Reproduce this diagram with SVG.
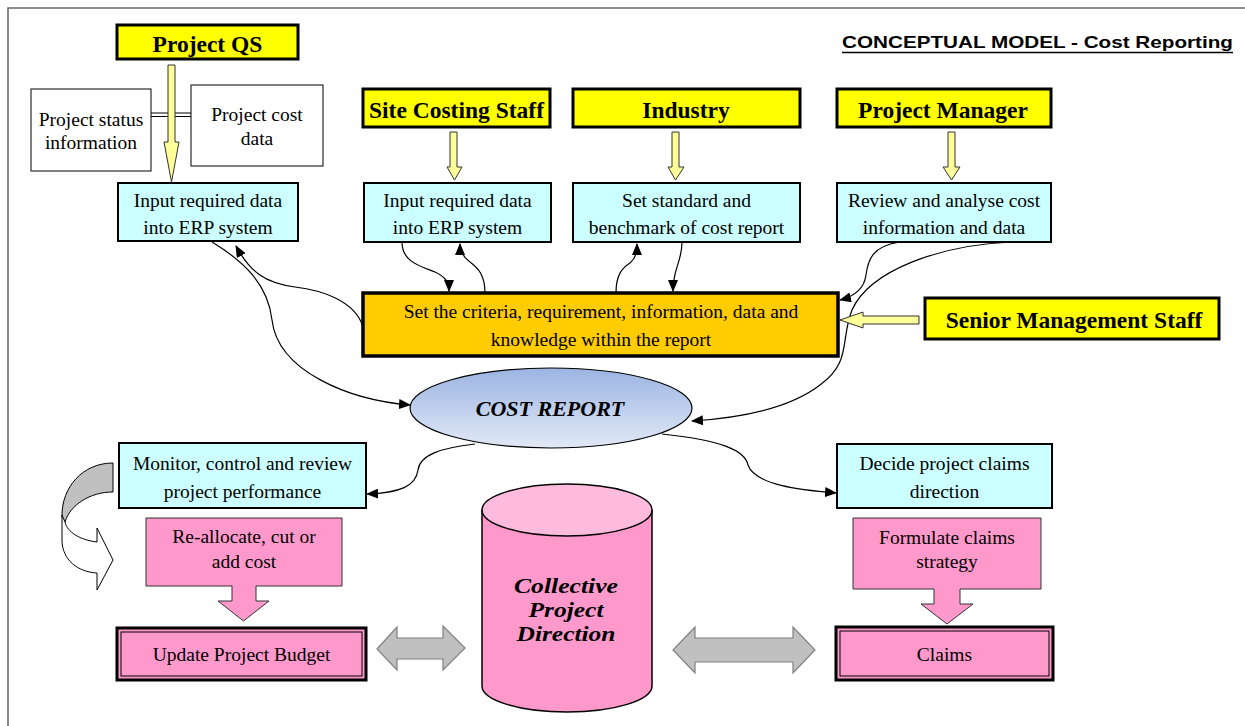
<svg xmlns="http://www.w3.org/2000/svg" width="1245" height="726" viewBox="0 0 1245 726">
<defs>
<marker id="ah" markerUnits="userSpaceOnUse" markerWidth="12" markerHeight="10" refX="11" refY="5" orient="auto">
<path d="M0,0 L12,5 L0,10 Z" fill="#000"/>
</marker>
<linearGradient id="eg" x1="0" y1="0" x2="0" y2="1">
<stop offset="0" stop-color="#9bb4e2"/>
<stop offset="1" stop-color="#e2e9f6"/>
</linearGradient>
<style>
.hd{fill:#ffff00;stroke:#000;stroke-width:3}
.cy{fill:#ccffff;stroke:#000;stroke-width:2}
.wb{fill:#fff;stroke:#000;stroke-width:1}
.pk{fill:#ff99cc;stroke:#333;stroke-width:1}
.ya{fill:#ffff99;stroke:#333;stroke-width:1}
.ga{fill:#c0c0c0;stroke:#808080;stroke-width:1.2}
.t{font-family:"Liberation Serif","Times New Roman",serif;font-size:19.5px;fill:#000;text-anchor:middle}
.tb{font-family:"Liberation Serif","Times New Roman",serif;font-size:23.5px;font-weight:bold;fill:#000;text-anchor:middle}
.bi{font-family:"Liberation Serif","Times New Roman",serif;font-weight:bold;font-style:italic;fill:#000;text-anchor:middle}
.c{fill:none;stroke:#000;stroke-width:1.2;marker-end:url(#ah)}
</style>
</defs>
<rect width="1245" height="726" fill="#fff"/>
<path d="M8,726 V8 H1245" fill="none" stroke="#666" stroke-width="1.5"/>

<g id="title">
<text x="842" y="48" font-family="'Liberation Sans',Arial,sans-serif" font-size="16.5" font-weight="bold" textLength="391" lengthAdjust="spacingAndGlyphs">CONCEPTUAL MODEL -  Cost Reporting</text>
<line x1="842" y1="52.5" x2="1233" y2="52.5" stroke="#000" stroke-width="1.5"/>
</g>

<g id="connectors">
<path class="c" d="M363,327 C355,300 320,290 295,287 C265,283 250,272 236,246"/>
<path class="c" d="M212,242 C245,262 268,285 272,320 C278,372 350,400 410,405"/>
<path class="c" d="M402,242 C402,262 420,266 435,272 C446,277 449,283 449,291"/>
<path class="c" d="M485,293 C485,275 478,268 470,262 C463,257 460,252 460,244"/>
<path class="c" d="M616,293 C616,275 622,268 630,263 C636,258 637,252 637,244"/>
<path class="c" d="M682,242 C682,262 673,268 673,291"/>
<path class="c" d="M900,242 C872,246 868,260 866,275 C864,290 852,297 840,300"/>
<path class="c" d="M1012,242 C940,245 870,270 852,310 C840,340 852,362 820,385 C790,408 740,418 692,421"/>
<path class="c" d="M475,444 C440,448 420,455 418,470 C416,486 400,493 367,494"/>
<path class="c" d="M662,434 C720,440 745,450 748,465 C755,485 800,490 836,493"/>
<line x1="151" y1="113" x2="191" y2="113" stroke="#000" stroke-width="1"/>
<line x1="151" y1="116.5" x2="191" y2="116.5" stroke="#000" stroke-width="1"/>
<path class="ya" d="M168,65 H175 V142 H179 L171.5,182 L164,142 H168 Z"/>
<path class="ya" d="M450,132 H457 V167 H462 L454.5,180 L447,167 H450 Z"/>
<path class="ya" d="M672,132 H679 V167 H684 L675.5,180 L668,167 H672 Z"/>
<path class="ya" d="M948,132 H955 V167 H960 L951.5,180 L943,167 H948 Z"/>
<path class="ya" d="M919,316 V324 H863 V328 L840,320 L863,312 V316 Z"/>
<path class="ga" d="M377,649 L397,627 V638 H443 V626 L465,648 L443,670 V659 H397 V670 Z"/>
<path class="ga" d="M673,650 L695,627 V638 H793 V627 L815,650 L793,673 V662 H695 V673 Z"/>
<path d="M113,463 C82,463 62,488 62,515 C62,519 63,521 65,522 C70,505 90,492 113,492 Z" fill="#c0c0c0" stroke="#000" stroke-width="1"/>
<path d="M62,515 L62,540 C62,560 78,572 97,573 L97,590 L113,560 L97,528 L97,542 C80,540 67,532 65,522 Z" fill="#fff" stroke="#000" stroke-width="1"/>
</g>

<g id="project-qs"><rect class="hd" x="117" y="25" width="181" height="34"/><text class="tb" x="207.5" y="52">Project QS</text></g>
<g id="project-status"><rect class="wb" x="31" y="89" width="120" height="82"/><text class="t" x="91" y="126">Project status</text><text class="t" x="91" y="149">information</text></g>
<g id="project-cost"><rect class="wb" x="191" y="85" width="132" height="81"/><text class="t" x="257" y="121">Project cost</text><text class="t" x="257" y="145">data</text></g>
<g id="input-1"><rect class="cy" x="118" y="183" width="180" height="58"/><text class="t" x="208" y="207">Input required data</text><text class="t" x="208" y="234">into ERP system</text></g>

<g id="site-costing"><rect class="hd" x="363" y="89" width="187" height="38"/><text class="tb" x="456.5" y="118">Site Costing Staff</text></g>
<g id="input-2"><rect class="cy" x="364" y="183" width="187" height="59"/><text class="t" x="457.5" y="207">Input required data</text><text class="t" x="457.5" y="234">into ERP system</text></g>

<g id="industry"><rect class="hd" x="573" y="89" width="227" height="38"/><text class="tb" x="686" y="118">Industry</text></g>
<g id="set-standard"><rect class="cy" x="573" y="183" width="227" height="59"/><text class="t" x="686.5" y="207">Set standard and</text><text class="t" x="686.5" y="234">benchmark of cost report</text></g>

<g id="project-manager"><rect class="hd" x="837" y="89" width="214" height="38"/><text class="tb" x="943" y="118">Project Manager</text></g>
<g id="review"><rect class="cy" x="837" y="183" width="214" height="59"/><text class="t" x="944" y="207">Review and analyse cost</text><text class="t" x="944" y="234">information and data</text></g>

<g id="senior"><rect class="hd" x="925" y="298" width="294" height="41" stroke-width="2"/><text class="tb" x="1074" y="328">Senior Management  Staff</text></g>

<g id="criteria"><rect x="363" y="293" width="475" height="63" fill="#ffcc00" stroke="#000" stroke-width="3.5"/><text class="t" x="601" y="318">Set the criteria, requirement, information, data and</text><text class="t" x="601" y="346">knowledge within the report</text></g>

<g id="cost-report"><ellipse cx="551" cy="408" rx="141" ry="40" fill="url(#eg)" stroke="#000" stroke-width="1.2"/><text class="bi" x="550" y="416" font-size="22">COST REPORT</text></g>

<g id="monitor"><rect class="cy" x="119" y="443" width="247" height="65"/><text class="t" x="242.5" y="470">Monitor, control and review</text><text class="t" x="242.5" y="498">project performance</text></g>
<g id="reallocate"><path class="pk" d="M146,518 H342 V586 H256 V601 H269 L243.5,621 L218,601 H232 V586 H146 Z"/><text class="t" x="244" y="543">Re-allocate,  cut or</text><text class="t" x="244" y="568">add cost</text></g>
<g id="update-budget"><rect x="117" y="628" width="249" height="52" fill="#ff99cc" stroke="#000" stroke-width="3"/><rect x="121" y="632" width="241" height="44" fill="none" stroke="#000" stroke-width="1"/><text class="t" x="241.5" y="661">Update Project Budget</text></g>

<g id="collective"><path d="M482,510 V686 A85,26 0 0 0 652,686 V510" fill="#ff99cc" stroke="#000" stroke-width="1.5"/><ellipse cx="567" cy="510" rx="85" ry="26" fill="#ffbbdd" stroke="#000" stroke-width="1.5"/>
<text class="bi" x="566" y="593" font-size="22" textLength="104" lengthAdjust="spacingAndGlyphs">Collective</text>
<text class="bi" x="566" y="617" font-size="22" textLength="75" lengthAdjust="spacingAndGlyphs">Project</text>
<text class="bi" x="566" y="641" font-size="22" textLength="99" lengthAdjust="spacingAndGlyphs">Direction</text></g>

<g id="decide"><rect class="cy" x="837" y="444" width="215" height="64"/><text class="t" x="944.5" y="470">Decide project claims</text><text class="t" x="944.5" y="498">direction</text></g>
<g id="formulate"><path class="pk" d="M853,518 H1041 V589 H960 V604 H973 L947,624 L921,604 H934 V589 H853 Z"/><text class="t" x="947" y="544">Formulate  claims</text><text class="t" x="947" y="568">strategy</text></g>
<g id="claims"><rect x="836" y="627" width="217" height="53" fill="#ff99cc" stroke="#000" stroke-width="3"/><rect x="840" y="631" width="209" height="45" fill="none" stroke="#000" stroke-width="1"/><text class="t" x="944.5" y="661">Claims</text></g>
</svg>
